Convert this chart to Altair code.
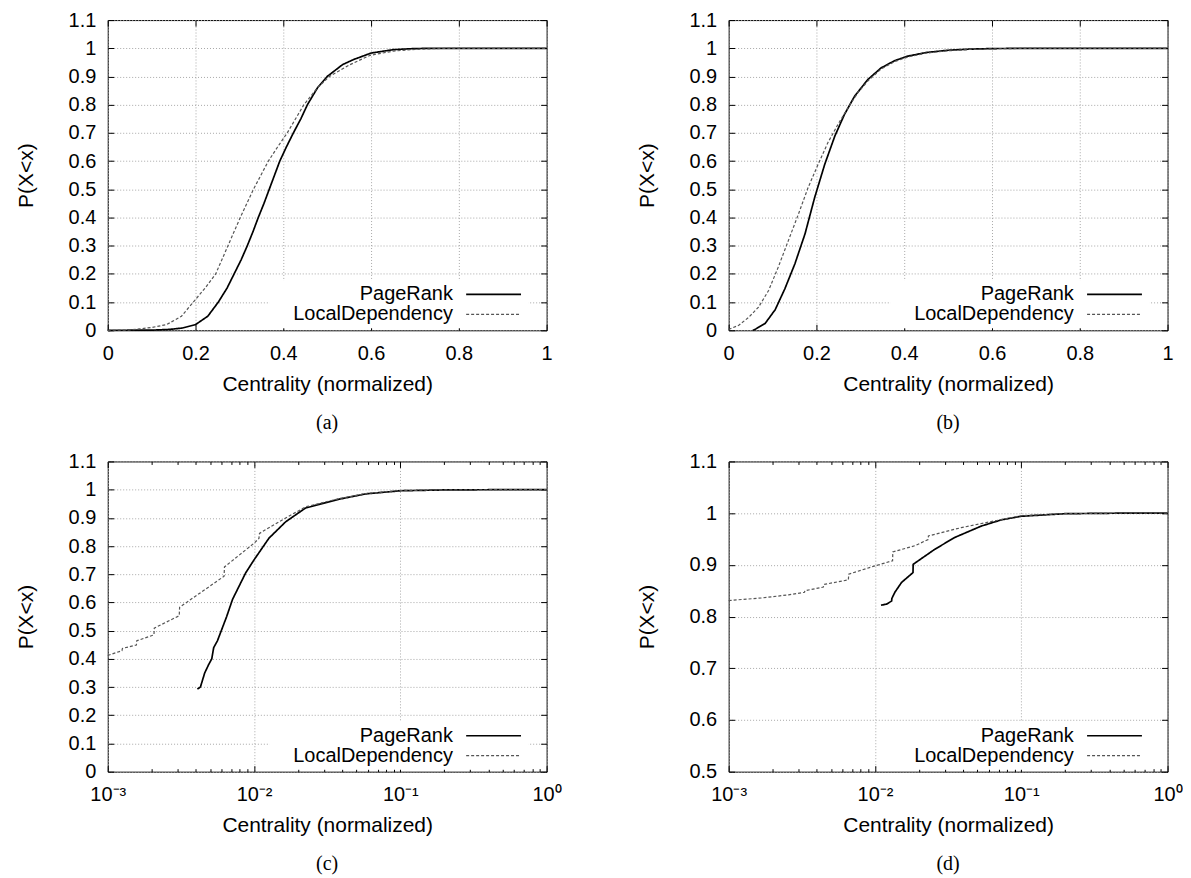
import altair as alt
import pandas as pd

SERIES = ["PageRank", "LocalDependency"]

# ---- panel (a) ----
PR_A_X = [0.0, 0.10, 0.14, 0.17, 0.20, 0.228, 0.252, 0.272, 0.288, 0.304, 0.318, 0.331, 0.343, 0.356, 0.368, 0.380, 0.392, 0.407, 0.423, 0.44, 0.455, 0.478, 0.50, 0.535, 0.56, 0.60, 0.65, 0.70, 0.75, 1.0]
PR_A_Y = [0.0, 0.0005, 0.003, 0.008, 0.02, 0.05, 0.10, 0.15, 0.20, 0.25, 0.30, 0.35, 0.40, 0.45, 0.50, 0.55, 0.60, 0.65, 0.70, 0.75, 0.80, 0.86, 0.90, 0.942, 0.96, 0.983, 0.995, 0.999, 1.0, 1.0]
LD_A_X = [0.0, 0.045, 0.073, 0.10, 0.134, 0.168, 0.195, 0.222, 0.246, 0.260, 0.274, 0.288, 0.302, 0.317, 0.332, 0.349, 0.366, 0.387, 0.409, 0.428, 0.447, 0.478, 0.505, 0.552, 0.598, 0.65, 0.70, 0.75, 0.80, 1.0]
LD_A_Y = [0.0, 0.0005, 0.005, 0.01, 0.02, 0.05, 0.10, 0.15, 0.20, 0.25, 0.30, 0.35, 0.40, 0.45, 0.50, 0.55, 0.60, 0.65, 0.70, 0.75, 0.80, 0.86, 0.90, 0.942, 0.975, 0.990, 0.996, 0.999, 1.0, 1.0]

# ---- panel (b) ----
PR_B_X = [0.055, 0.060, 0.083, 0.106, 0.128, 0.151, 0.174, 0.196, 0.219, 0.242, 0.264, 0.287, 0.317, 0.347, 0.378, 0.408, 0.45, 0.50, 0.55, 0.60, 0.70, 1.0]
PR_B_Y = [0.0, 0.003, 0.024, 0.073, 0.147, 0.236, 0.342, 0.471, 0.589, 0.689, 0.766, 0.830, 0.889, 0.930, 0.956, 0.972, 0.985, 0.993, 0.997, 0.999, 1.0, 1.0]
LD_B_X = [0.0, 0.023, 0.045, 0.068, 0.091, 0.113, 0.136, 0.159, 0.181, 0.204, 0.226, 0.249, 0.272, 0.294, 0.317, 0.347, 0.378, 0.408, 0.45, 0.50, 0.55, 0.60, 0.70, 1.0]
LD_B_Y = [0.003, 0.018, 0.045, 0.082, 0.141, 0.224, 0.318, 0.412, 0.506, 0.589, 0.665, 0.730, 0.789, 0.842, 0.884, 0.926, 0.953, 0.969, 0.983, 0.991, 0.996, 0.998, 1.0, 1.0]

# ---- panel (c) ----
PR_C_X = [0.0041, 0.0043, 0.0046, 0.0049, 0.00514, 0.0053, 0.00562, 0.0065, 0.00713, 0.00877, 0.0100, 0.01265, 0.01645, 0.0225, 0.038, 0.058, 0.1, 0.2, 0.5, 1.0]
PR_C_Y = [0.293, 0.30, 0.35, 0.38, 0.40, 0.44, 0.464, 0.55, 0.611, 0.705, 0.751, 0.828, 0.886, 0.935, 0.966, 0.985, 0.996, 0.999, 1.0, 1.0]
LD_C_X = [0.001, 0.00125, 0.00126, 0.00157, 0.00158, 0.00207, 0.00208, 0.00308, 0.00310, 0.00624, 0.00628, 0.0100, 0.0108, 0.0109, 0.0148, 0.0225, 0.038, 0.058, 0.1, 0.2, 0.5, 1.0]
LD_C_Y = [0.412, 0.429, 0.437, 0.449, 0.464, 0.485, 0.509, 0.553, 0.583, 0.693, 0.726, 0.810, 0.827, 0.845, 0.886, 0.939, 0.968, 0.986, 0.997, 0.999, 1.0, 1.0]

# ---- panel (d) ----
PR_D_X = [0.0110, 0.0120, 0.0130, 0.01305, 0.01368, 0.0152, 0.0182, 0.01825, 0.0256, 0.0351, 0.0533, 0.073, 0.1, 0.2, 0.5, 1.0]
PR_D_Y = [0.822, 0.824, 0.830, 0.835, 0.847, 0.866, 0.885, 0.901, 0.930, 0.953, 0.975, 0.987, 0.994, 0.999, 1.0, 1.0]
LD_D_X = [0.001, 0.00169, 0.00257, 0.0033, 0.00332, 0.00444, 0.00447, 0.00658, 0.00662, 0.0100, 0.0132, 0.01325, 0.01875, 0.0231, 0.0232, 0.0389, 0.0657, 0.1, 0.2, 0.5, 1.0]
LD_D_Y = [0.831, 0.836, 0.842, 0.847, 0.850, 0.857, 0.862, 0.871, 0.882, 0.898, 0.908, 0.925, 0.937, 0.949, 0.956, 0.972, 0.985, 0.995, 0.999, 1.0, 1.0]

# ---- ticks ----
LIN_X_TICKS = [0.0, 0.2, 0.4, 0.6, 0.8, 1.0]
LOG_X_TICKS = [0.001, 0.01, 0.1, 1.0]
LOG_X_MINOR = [0.002, 0.003, 0.004, 0.005, 0.006, 0.007, 0.008, 0.009,
               0.02, 0.03, 0.04, 0.05, 0.06, 0.07, 0.08, 0.09,
               0.2, 0.3, 0.4, 0.5, 0.6, 0.7, 0.8, 0.9]
Y_TICKS_FULL = [0.0, 0.1, 0.2, 0.3, 0.4, 0.5, 0.6, 0.7, 0.8, 0.9, 1.0, 1.1]
Y_TICKS_TOP = [0.5, 0.6, 0.7, 0.8, 0.9, 1.0, 1.1]
LOG_LABELS = "datum.value < 0.003 ? '10⁻³' : datum.value < 0.03 ? '10⁻²' : datum.value < 0.3 ? '10⁻¹' : '10⁰'"

W, H = 440, 311
FONT = "Liberation Sans"


def frame(pr_x, pr_y, ld_x, ld_y):
    rows = []
    for name, xs, ys in [(SERIES[0], pr_x, pr_y), (SERIES[1], ld_x, ld_y)]:
        for i, (x, y) in enumerate(zip(xs, ys)):
            rows.append({"series": name, "x": x, "p": y, "i": i})
    return pd.DataFrame(rows)


def panel(df, log, ydomain, yticks, caption):
    if log:
        xscale = alt.Scale(type="log", domain=[0.001, 1.0], nice=False)
        xmajor = LOG_X_TICKS
        lab = {"labelExpr": LOG_LABELS}
    else:
        xscale = alt.Scale(domain=[0.0, 1.0], nice=False, zero=False)
        xmajor = LIN_X_TICKS
        lab = {"format": "~g"}
    yscale = alt.Scale(domain=ydomain, nice=False, zero=False)

    # key box: labels right-aligned, sample line to their right, white box behind
    leg = alt.Legend(orient="none", legendX=162, legendY=261, title=None,
                     symbolType="M20.37,0H26.48", symbolSize=324,
                     symbolStrokeWidth=1.4, labelAlign="right", labelOffset=160,
                     labelFont=FONT, labelFontSize=20, labelLimit=400,
                     rowPadding=0, padding=4, fillColor="white", labelColor="black")

    main = alt.Chart(df).mark_line().encode(
        x=alt.X("x:Q", scale=xscale,
                axis=alt.Axis(title="Centrality (normalized)", values=xmajor, grid=True,
                              ticks=False, tickSize=0, domain=False, labelPadding=13,
                              titlePadding=10, labelFlush=False, labelOverlap=False, **lab)),
        y=alt.Y("p:Q", scale=yscale,
                axis=alt.Axis(title="P(X<x)", values=yticks, grid=True, ticks=False,
                              tickSize=0, domain=False, format="~g", labelPadding=12,
                              titlePadding=32, labelFlush=False, labelOverlap=False)),
        color=alt.Color("series:N", scale=alt.Scale(domain=SERIES, range=["#000000", "#555555"]), legend=leg),
        strokeDash=alt.StrokeDash("series:N", scale=alt.Scale(domain=SERIES, range=[[1, 0], [3, 2]]), legend=leg),
        strokeWidth=alt.StrokeWidth("series:N", scale=alt.Scale(domain=SERIES, range=[1.7, 1.2]), legend=None),
        order="i:Q",
    )

    tick_common = dict(labels=False, domain=False, grid=False, ticks=True, title=None,
                       tickColor="black", tickWidth=1)

    def tick_layer(xa, ya):
        return alt.Chart(df).mark_line(opacity=0).encode(
            x=alt.X("x:Q", scale=xscale, axis=xa),
            y=alt.Y("p:Q", scale=yscale, axis=ya),
        )

    layers = [main,
              tick_layer(alt.Axis(orient="top", offset=-H, values=xmajor, tickSize=6, **tick_common),
                         alt.Axis(orient="right", offset=-W, values=yticks, tickSize=6, **tick_common)),
              tick_layer(alt.Axis(orient="bottom", offset=-H, values=xmajor, tickSize=6, **tick_common),
                         alt.Axis(orient="left", offset=-W, values=yticks, tickSize=6, **tick_common))]
    if log:
        layers.append(tick_layer(alt.Axis(orient="top", offset=-H, values=LOG_X_MINOR, tickSize=3, **tick_common), None))
        layers.append(tick_layer(alt.Axis(orient="bottom", offset=-H, values=LOG_X_MINOR, tickSize=3, **tick_common), None))

    return alt.layer(*layers).resolve_axis(x="independent", y="independent").properties(
        width=W, height=H,
        title=alt.TitleParams(text=caption, orient="bottom", font="Liberation Serif", fontSize=20,
                              fontWeight="normal", offset=19, anchor="middle", color="black"),
    )


pa = panel(frame(PR_A_X, PR_A_Y, LD_A_X, LD_A_Y), False, [0.0, 1.1], Y_TICKS_FULL, "(a)")
pb = panel(frame(PR_B_X, PR_B_Y, LD_B_X, LD_B_Y), False, [0.0, 1.1], Y_TICKS_FULL, "(b)")
pc = panel(frame(PR_C_X, PR_C_Y, LD_C_X, LD_C_Y), True, [0.0, 1.1], Y_TICKS_FULL, "(c)")
pd_ = panel(frame(PR_D_X, PR_D_Y, LD_D_X, LD_D_Y), True, [0.5, 1.1], Y_TICKS_TOP, "(d)")

res = dict(color="independent", strokeDash="independent", strokeWidth="independent")

chart = alt.concat(
    pa, pb, pc, pd_, columns=2,
    spacing=alt.RowColnumber(column=182.5, row=131.5), bounds="flush",
).resolve_scale(**res).resolve_legend(
    color="independent", strokeDash="independent"
).properties(
    padding={"left": 6, "top": 0, "right": 0, "bottom": 0}
).configure_view(
    stroke="black", strokeWidth=1
).configure_axis(
    labelFont=FONT, titleFont=FONT, labelFontSize=20, titleFontSize=21,
    titleFontWeight="normal", labelColor="black", titleColor="black",
    gridColor="#a8a8a8", gridDash=[1, 2], gridWidth=1,
)

chart.save("out.html", embed_options={"renderer": "svg", "actions": False})
